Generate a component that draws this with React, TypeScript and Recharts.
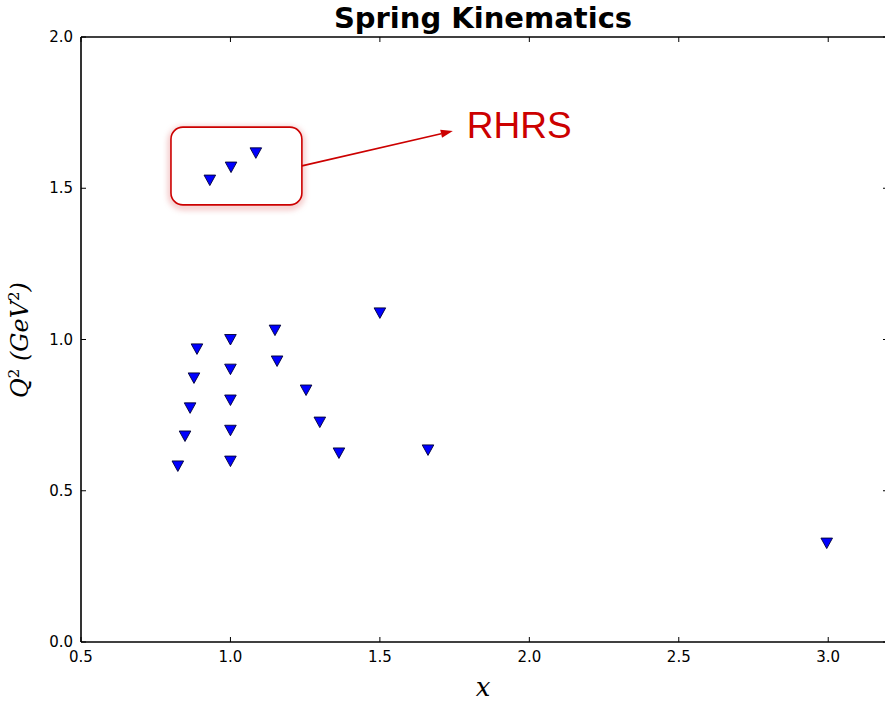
import React from 'react';
import {
  ScatterChart,
  Scatter,
  XAxis,
  YAxis,
  ReferenceArea,
  ReferenceLine,
  ReferenceDot,
} from 'recharts';

// kinematic points
const xValues = [
  0.931, 1.002, 1.085, 1.5, 0.888, 1.0, 1.149, 0.878, 1.0, 1.156, 0.865, 1.0,
  1.253, 0.848, 1.0, 1.299, 0.824, 1.0, 1.363, 1.661, 2.995,
];
const q2Values = [
  1.527, 1.57, 1.617, 1.088, 0.969, 1.0, 1.031, 0.873, 0.902, 0.929, 0.774, 0.8,
  0.833, 0.681, 0.7, 0.727, 0.582, 0.598, 0.625, 0.635, 0.327,
];
const xTicks = [0.5, 1.0, 1.5, 2.0, 2.5, 3.0];
const yTicks = [0.0, 0.5, 1.0, 1.5, 2.0];

const points = xValues.map((x, i) => ({ x, q2: q2Values[i] }));

const RED = '#cc0000';
const tickFont = { fontFamily: 'DejaVu Sans', fontSize: 15, fill: '#000' };

const TriangleDown = (props: any) => {
  const { cx, cy } = props;
  const w = 5.8;
  return (
    <polygon
      points={`${cx - w},${cy - 5} ${cx + w},${cy - 5} ${cx},${cy + 5.5}`}
      fill="#0000ff"
      stroke="#000033"
      strokeWidth={0.9}
    />
  );
};

const BottomTick = ({ x, y, payload }: any) => (
  <g>
    <line x1={x} x2={x} y1={y} y2={y - 5} stroke="#000" />
    <text x={x} y={y + 20} textAnchor="middle" {...tickFont}>
      {Number(payload.value).toFixed(1)}
    </text>
  </g>
);

const TopTick = ({ x, y }: any) => (
  <line x1={x} x2={x} y1={y} y2={y + 5} stroke="#000" />
);

const LeftTick = ({ x, y, payload }: any) => (
  <g>
    <line x1={x} x2={x + 5} y1={y} y2={y} stroke="#000" />
    <text x={x - 8} y={y + 5} textAnchor="end" {...tickFont}>
      {Number(payload.value).toFixed(1)}
    </text>
  </g>
);

const RightTick = ({ x, y }: any) => (
  <line x1={x} x2={x - 5} y1={y} y2={y} stroke="#000" />
);

const RoundBox = ({ x, y, width, height }: any) => (
  <g>
    <defs>
      <filter id="glow" x="-20%" y="-20%" width="140%" height="140%">
        <feGaussianBlur stdDeviation="3" />
      </filter>
    </defs>
    <rect
      x={x}
      y={y + 2}
      width={width}
      height={height}
      rx={12}
      fill="none"
      stroke="rgba(204,0,0,0.35)"
      strokeWidth={4}
      filter="url(#glow)"
    />
    <rect x={x} y={y} width={width} height={height} rx={12} fill="#fff" stroke={RED} strokeWidth={1.6} />
  </g>
);

const Arrow = ({ x1, y1, x2, y2 }: any) => {
  const ang = Math.atan2(y2 - y1, x2 - x1);
  const len = 12;
  const half = 4;
  const bx = x2 - len * Math.cos(ang);
  const by = y2 - len * Math.sin(ang);
  const px = -Math.sin(ang) * half;
  const py = Math.cos(ang) * half;
  return (
    <g>
      <line x1={x1} y1={y1} x2={bx} y2={by} stroke={RED} strokeWidth={1.6} />
      <polygon points={`${x2},${y2} ${bx + px},${by + py} ${bx - px},${by - py}`} fill={RED} />
    </g>
  );
};

const RhrsText = ({ cx, cy }: any) => (
  <text x={cx} y={cy} fill={RED} fontFamily="Liberation Sans, Arial" fontSize={37}>
    RHRS
  </text>
);

export default function App() {
  return (
    <div style={{ position: 'absolute', left: 0, top: 0, width: 885, height: 702, overflow: 'hidden', background: '#fff' }}>
      <ScatterChart width={889} height={702} margin={{ top: 36, right: 0, bottom: 0, left: 0 }}>
        <XAxis
          xAxisId="b"
          dataKey="x"
          type="number"
          domain={[0.5, 3.2]}
          ticks={xTicks}
          interval={0}
          allowDataOverflow
          height={60}
          tickSize={0}
          tickMargin={0}
          tick={<BottomTick />}
          axisLine={{ stroke: '#000', strokeWidth: 1.6 }}
          tickLine={false}
        />
        <XAxis
          xAxisId="t"
          orientation="top"
          dataKey="x"
          type="number"
          domain={[0.5, 3.2]}
          ticks={xTicks}
          interval={0}
          allowDataOverflow
          height={1}
          tickSize={0}
          tickMargin={0}
          tick={<TopTick />}
          axisLine={{ stroke: '#000', strokeWidth: 1.6 }}
          tickLine={false}
        />
        <YAxis
          yAxisId="l"
          dataKey="q2"
          type="number"
          domain={[0, 2]}
          ticks={yTicks}
          interval={0}
          allowDataOverflow
          width={81}
          tickSize={0}
          tickMargin={0}
          tick={<LeftTick />}
          axisLine={{ stroke: '#000', strokeWidth: 1.6 }}
          tickLine={false}
        />
        <YAxis
          yAxisId="r"
          orientation="right"
          dataKey="q2"
          type="number"
          domain={[0, 2]}
          ticks={yTicks}
          interval={0}
          allowDataOverflow
          width={1}
          tickSize={0}
          tickMargin={0}
          tick={<RightTick />}
          axisLine={{ stroke: '#000', strokeWidth: 1.6 }}
          tickLine={false}
        />
        <ReferenceArea xAxisId="b" yAxisId="l" x1={0.801} x2={1.239} y1={1.445} y2={1.702} shape={<RoundBox />} />
        <ReferenceLine
          xAxisId="b"
          yAxisId="l"
          segment={[
            { x: 1.239, y: 1.574 },
            { x: 1.744, y: 1.689 },
          ]}
          shape={<Arrow />}
        />
        <ReferenceDot xAxisId="b" yAxisId="l" x={1.791} y={1.665} r={0} shape={<RhrsText />} />
        <Scatter
          xAxisId="b"
          yAxisId="l"
          data={points}
          shape={<TriangleDown />}
          isAnimationActive={false}
        />
      </ScatterChart>
      <div
        style={{
          position: 'absolute',
          left: 81,
          width: 804,
          top: 0,
          textAlign: 'center',
          fontFamily: 'DejaVu Sans',
          fontWeight: 'bold',
          fontSize: 29,
          lineHeight: '36px',
        }}
      >
        Spring Kinematics
      </div>
      <div
        style={{
          position: 'absolute',
          left: 81,
          width: 804,
          top: 672,
          textAlign: 'center',
          fontFamily: 'DejaVu Serif',
          fontStyle: 'italic',
          fontSize: 26,
        }}
      >
        x
      </div>
      <div
        style={{
          position: 'absolute',
          left: 19,
          top: 340,
          transform: 'translate(-50%, -50%) rotate(-90deg)',
          whiteSpace: 'nowrap',
          fontFamily: 'DejaVu Serif',
          fontStyle: 'italic',
          fontSize: 24,
        }}
      >
        Q<sup style={{ fontSize: 15, fontStyle: 'normal' }}>2</sup>{' '}
        <span>(GeV<sup style={{ fontSize: 15, fontStyle: 'normal' }}>2</sup>)</span>
      </div>
    </div>
  );
}
